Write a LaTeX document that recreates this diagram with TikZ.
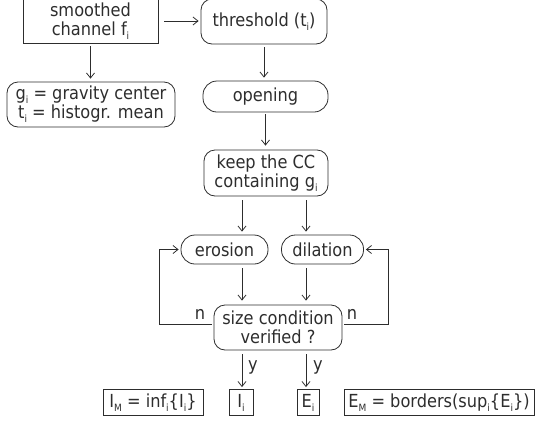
\documentclass[tikz,border=0pt]{standalone}
\usepackage{fontspec}
\setmainfont{DejaVu Sans}[FakeStretch=0.9]
\usetikzlibrary{arrows.meta,calc}
\definecolor{dc}{RGB}{45,45,45}
\newcommand{\sbx}[1]{\raisebox{-0.22em}{\fontsize{10}{10}\selectfont #1}}
\tikzset{
  base/.style={draw=dc, text=dc, line width=0.8pt, inner sep=0pt, align=center, font=\fontsize{18}{19}\selectfont},
  sq/.style={base},
  rnd/.style={base, rounded corners=11pt},
  pill/.style={base, rounded corners=14pt},
  arr/.style={draw=dc, line width=0.8pt, -{Straight Barb[length=5pt,width=8pt]}},
  lbl/.style={text=dc, inner sep=0pt, font=\fontsize{18}{19}\selectfont}
}
\begin{document}
\begin{tikzpicture}[x=1pt,y=-1pt]
\useasboundingbox (0,0) rectangle (536,429);
\node[sq, minimum width=135pt, minimum height=44pt] (smooth) at (90.5,21) {smoothed\\channel f\sbx{i}};
\node[rnd, minimum width=126pt, minimum height=45pt] (thresh) at (264,21.5) {threshold (t\sbx{i})};
\node[rnd, minimum width=168pt, minimum height=45pt] (grav) at (91,104.5) {g\sbx{i} = gravity center\\t\sbx{i} = histogr. mean};
\node[pill, minimum width=125pt, minimum height=31pt] (open) at (265.5,96.5) {opening};
\node[rnd, minimum width=124pt, minimum height=46pt] (keep) at (266,173) {keep the CC\\containing g\sbx{i}};
\node[pill, minimum width=87pt, minimum height=29pt] (eros) at (224.5,249.5) {erosion};
\node[pill, minimum width=82pt, minimum height=29pt] (dila) at (322.5,249.5) {dilation};
\node[rnd, minimum width=128pt, minimum height=45pt] (size) at (278,327.5) {size condition\\verified ?};
\node[sq, minimum width=100pt, minimum height=26pt] (IM) at (153,402.5) {I\sbx{M} = inf\sbx{i}\{I\sbx{i}\}};
\node[sq, minimum width=24pt, minimum height=26pt] (Ii) at (241,402.5) {I\sbx{i}};
\node[sq, minimum width=22pt, minimum height=26pt] (Ei) at (308,402.5) {E\sbx{i}};
\node[sq, minimum width=190pt, minimum height=26pt] (EM) at (439,402.5) {E\sbx{M} = borders(sup\sbx{i}\{E\sbx{i}\})};
\coordinate (cl) at (242,0);
\coordinate (cr) at (306,0);
\coordinate (lx) at (159,0);
\coordinate (rx) at (388,0);
\draw[arr, shorten <=6pt, shorten >=2pt] (smooth.east) -- (smooth.east -| thresh.west);
\draw[arr, shorten <=3pt, shorten >=3pt] (smooth.south) -- (smooth.south |- grav.north);
\draw[arr, shorten <=3pt, shorten >=3pt] (thresh.south) -- (thresh.south |- open.north);
\draw[arr, shorten <=2pt, shorten >=4pt] (open.south) -- (open.south |- keep.north);
\draw[arr, shorten <=4pt, shorten >=3pt] (keep.south -| cl) -- (eros.north -| cl);
\draw[arr, shorten <=4pt, shorten >=3pt] (keep.south -| cr) -- (dila.north -| cr);
\draw[arr, shorten <=4pt, shorten >=4pt] (eros.south -| cl) -- (size.north -| cl);
\draw[arr, shorten <=4pt, shorten >=4pt] (dila.south -| cr) -- (size.north -| cr);
\draw[arr, shorten <=2pt, shorten >=2pt] ([yshift=3.5pt]size.west) -| (lx |- eros.west) -- (eros.west);
\draw[arr, shorten <=2pt, shorten >=2pt] ([yshift=3.5pt]size.east) -| (rx |- dila.east) -- (dila.east);
\draw[arr, shorten <=4pt, shorten >=2pt] (size.south -| cl) -- (Ii.north -| cl);
\draw[arr, shorten <=4pt, shorten >=2pt] (size.south -| cr) -- (Ei.north -| cr);
\node[lbl] (nl) at (200,314) {n};
\node[lbl] (nr) at (352,314) {n};
\node[lbl] (yl) at (253,367) {y};
\node[lbl] (yr) at (318,367) {y};
\end{tikzpicture}
\end{document}
